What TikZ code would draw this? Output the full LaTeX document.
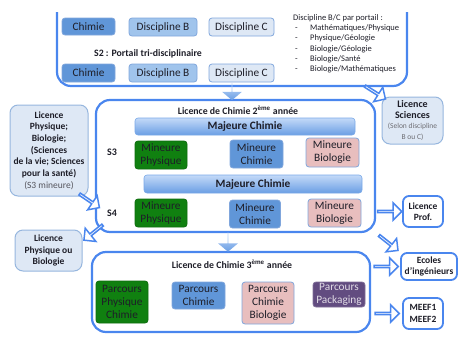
\documentclass[tikz,border=0pt]{standalone}
\usepackage{fontspec}
\setmainfont{Carlito}
\usetikzlibrary{shapes.arrows}
\usetikzlibrary{calc}
\definecolor{frameblue}{RGB}{74,134,238}
\definecolor{chemfill}{RGB}{96,150,216}
\definecolor{discbfill}{RGB}{160,196,236}
\definecolor{palefill}{RGB}{222,232,245}
\definecolor{paleline}{RGB}{150,182,222}
\definecolor{cellline}{RGB}{128,166,220}
\definecolor{physfill}{RGB}{16,128,16}
\definecolor{biofill}{RGB}{232,190,190}
\definecolor{packfill}{RGB}{98,76,128}
\definecolor{majtop}{RGB}{196,218,248}
\definecolor{majbot}{RGB}{106,158,228}
\definecolor{inktext}{RGB}{30,30,40}
\tikzset{%
    every node/.style={%
        text=inktext,%
        align=center,%
        inner sep=1pt%
    },%
    bigframe/.style={%
        draw=frameblue,%
        line width=2.2pt,%
        rounded corners=14pt%
    },%
    cell/.style={%
        rounded corners=3pt,%
        draw=cellline,%
        line width=0.8pt,%
        font=\fontsize{11.3}{13}\selectfont%
    },%
    chem/.style={cell, fill=chemfill},%
    discb/.style={cell, fill=discbfill},%
    discc/.style={cell, fill=palefill},%
    phys/.style={cell, fill=physfill, draw=physfill!85!black},%
    bio/.style={cell, fill=biofill},%
    pack/.style={cell, fill=packfill, draw=packfill!80!white, text=white!80!packfill},%
    majorbar/.style={%
        rounded corners=3pt,%
        top color=majtop,%
        bottom color=majbot,%
        draw=majbot!90!white,%
        line width=0.6pt,%
        font=\bfseries\fontsize{11.3}{13}\selectfont%
    },%
    label/.style={font=\bfseries\fontsize{9.8}{11}\selectfont},%
    sem/.style={font=\bfseries\fontsize{10}{12}\selectfont},%
    outlet/.style={%
        rounded corners=6pt,%
        draw=frameblue,%
        line width=1.8pt,%
        fill=white,%
        font=\bfseries\fontsize{9.5}{11.5}\selectfont%
    },%
    paleout/.style={%
        rounded corners=8pt,%
        draw=paleline,%
        line width=1pt,%
        fill=palefill,%
        font=\bfseries\fontsize{9.5}{11.7}\selectfont%
    },%
    outarrow/.style={%
        single arrow,%
        draw=frameblue,%
        line width=1.5pt,%
        fill=white,%
        minimum width=17pt,%
        minimum height=24pt,%
        single arrow head extend=4.5pt,%
        inner sep=0pt,%
        sloped,%
        allow upside down,%
        midway%
    },%
    downarrow/.style={%
        single arrow,%
        shape border rotate=270,%
        top color=majtop,%
        bottom color=majbot,%
        draw=none,%
        minimum width=20pt,%
        minimum height=17pt,%
        single arrow head extend=4pt,%
        single arrow tip angle=100,%
        inner sep=0pt,%
        midway%
    }%
}
\begin{document}
\begin{tikzpicture}[x=1pt, y=-1pt]
    \useasboundingbox (0,0) rectangle (458,346);
    % portail S1 / S2
    \draw[bigframe] (57,12) -- (57,86) -- (407,86) -- (407,12);
    \node[chem, minimum width=53pt, minimum height=17pt] (s1chem) at (88.5,26.5) {Chimie};
    \node[discb, minimum width=68pt, minimum height=18pt] (s1discb) at (163,27) {Discipline B};
    \node[discc, minimum width=65pt, minimum height=18pt] (s1discc) at (241.5,27) {Discipline C};
    \node[label] (s2title) at (148,54) {S2 : Portail tri-disciplinaire};
    \node[chem, minimum width=53pt, minimum height=18pt] (s2chem) at (88.5,73) {Chimie};
    \node[discb, minimum width=68pt, minimum height=18pt] (s2discb) at (163,73) {Discipline B};
    \node[discc, minimum width=65pt, minimum height=18pt] (s2discc) at (241.5,73) {Discipline C};
    \node[anchor=north west, align=left, inner sep=0pt,
          font=\fontsize{8.5}{10.3}\selectfont] (portails) at (293,14) {%
        Discipline B/C par portail :\\
        \hspace*{2pt}\makebox[15pt][l]{-}Mathématiques/Physique\\
        \hspace*{2pt}\makebox[15pt][l]{-}Physique/Géologie\\
        \hspace*{2pt}\makebox[15pt][l]{-}Biologie/Géologie\\
        \hspace*{2pt}\makebox[15pt][l]{-}Biologie/Santé\\
        \hspace*{2pt}\makebox[15pt][l]{-}Biologie/Mathématiques};
    \coordinate (portalmid) at (232,84);
    \coordinate (portalfoot) at (368,88);

    % licence 2
    \node[bigframe, minimum width=279pt, minimum height=132pt] (year2) at (235.5,166) {};
    \node[label] (year2title) at (238,110) {Licence de Chimie 2\textsuperscript{ème} année};
    \node[majorbar, minimum width=220pt, minimum height=17pt] (maj3) at (245,126.5) {Majeure Chimie};
    \node[majorbar, minimum width=218pt, minimum height=18pt] (maj4) at (253,184) {Majeure Chimie};
    \node[sem] (s3) at (112,152) {S3};
    \node[sem] (s4) at (112,213) {S4};
    \node[phys, minimum width=52pt, minimum height=28pt] (min3phys) at (161,155) {Mineure\\Physique};
    \node[chem, minimum width=53pt, minimum height=28pt] (min3chem) at (256.5,154) {Mineure\\Chimie};
    \node[bio, minimum width=53pt, minimum height=29pt] (min3bio) at (332.5,152.5) {Mineure\\Biologie};
    \node[phys, minimum width=52pt, minimum height=28pt] (min4phys) at (161,213) {Mineure\\Physique};
    \node[chem, minimum width=51pt, minimum height=28pt] (min4chem) at (255,214) {Mineure\\Chimie};
    \node[bio, minimum width=53pt, minimum height=28pt] (min4bio) at (334.5,213) {Mineure\\Biologie};

    % licence 3
    \node[bigframe, minimum width=278pt, minimum height=80pt] (year3) at (231,292) {};
    \node[label] (year3title) at (232,264) {Licence de Chimie 3\textsuperscript{ème} année};
    \node[phys, minimum width=52pt, minimum height=42pt] (parphys) at (122,302) {Parcours\\Physique\\Chimie};
    \node[chem, minimum width=53pt, minimum height=27pt] (parchem) at (198.5,295.5) {Parcours\\Chimie};
    \node[bio, minimum width=52pt, minimum height=42pt] (parbio) at (268,303) {Parcours\\Chimie\\Biologie};
    \node[pack, minimum width=52pt, minimum height=25pt] (parpack) at (339,294.5) {Parcours\\Packaging};

    % debouches
    \node[paleout, minimum width=78pt, minimum height=91pt] (lphys) at (49,150.5) {%
        Licence\\Physique;\\Biologie;\\(Sciences\\de la vie; Sciences\\pour la santé)\\
        \textmd{\color{inktext!75}(S3 mineure)}};
    \node[paleout, minimum width=67pt, minimum height=41pt] (lbio) at (48.5,250.5) {Licence\\Physique ou\\Biologie};
    \node[paleout, minimum width=61pt, minimum height=47pt,
          font=\bfseries\fontsize{10}{10.5}\selectfont] (lsci) at (412.5,120.5) {%
        Licence\\Sciences\\
        \textmd{\fontsize{7.5}{9}\selectfont\color{inktext!65}(Selon discipline}\\
        \textmd{\fontsize{7.5}{9}\selectfont\color{inktext!65}B ou C)}};
    \node[outlet, minimum width=40pt, minimum height=31pt] (prof) at (423,211.5) {Licence\\Prof.};
    \node[outlet, minimum width=56pt, minimum height=27pt] (ecoles) at (429,266.5) {Ecoles\\d’ingénieurs};
    \node[outlet, minimum width=40pt, minimum height=31pt] (meef) at (423,313.5) {MEEF1\\MEEF2};

    \coordinate (lphystail) at (78,193);
    \coordinate (s4tip) at (100,208);
    \coordinate (year2tail) at (104,224);

    % fleches
    \path (portalmid) -- node[downarrow] (down2) {} (year2.north -| portalmid);
    \path ($(year2.south)+(-7.5,0)$) -- node[downarrow, minimum height=19pt] (down3) {}
          ($(year3.north)+(-3,0)$);
    \path (portalfoot) -- node[outarrow] (tosci) {} (lsci.north west);
    \path (lphystail) -- node[outarrow] (tos4) {} (s4tip);
    \path (year2tail) -- node[outarrow] (tolbio) {} ($(lbio.east)+(1,-10)$);
    \path (year2.east |- prof) -- node[outarrow] (toprof) {} (prof.west);
    \path (year2.south east) -- node[outarrow] (toecoles) {} (ecoles.north west);
    \path (year3.east |- ecoles) -- node[outarrow] (year3ecoles) {} (ecoles.west);
    \path (year3.east |- meef) -- node[outarrow] (tomeef) {} (meef.west);
\end{tikzpicture}
\end{document}
